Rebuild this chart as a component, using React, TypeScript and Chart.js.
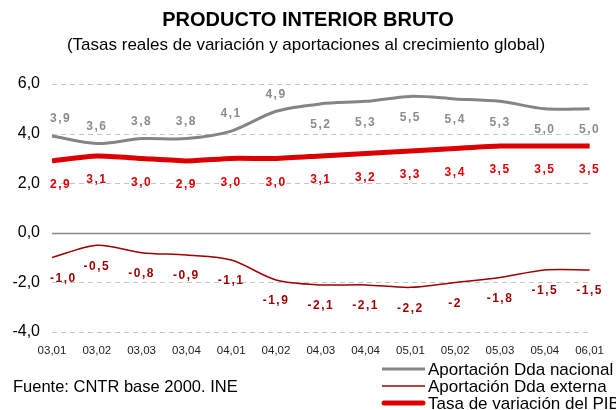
import React, { useEffect, useRef } from "react";
import { Chart, registerables } from "chart.js";

Chart.register(...registerables);

const FONT = "'Liberation Sans', Arial, Helvetica, sans-serif";

const categories = [
  "03,01", "03,02", "03,03", "03,04", "04,01", "04,02", "04,03",
  "04,04", "05,01", "05,02", "05,03", "05,04", "06,01",
];
const ddaNacional = [3.9, 3.6, 3.8, 3.8, 4.1, 4.9, 5.2, 5.3, 5.5, 5.4, 5.3, 5.0, 5.0];
const ddaExterna = [-1.0, -0.5, -0.8, -0.9, -1.1, -1.9, -2.1, -2.1, -2.2, -2.0, -1.8, -1.5, -1.5];
const tasaPib = [2.9, 3.1, 3.0, 2.9, 3.0, 3.0, 3.1, 3.2, 3.3, 3.4, 3.5, 3.5, 3.5];
const nacionalLabels = ["3,9", "3,6", "3,8", "3,8", "4,1", "4,9", "5,2", "5,3", "5,5", "5,4", "5,3", "5,0", "5,0"];
const externaLabels = ["-1,0", "-0,5", "-0,8", "-0,9", "-1,1", "-1,9", "-2,1", "-2,1", "-2,2", "-2", "-1,8", "-1,5", "-1,5"];
const pibLabels = ["2,9", "3,1", "3,0", "2,9", "3,0", "3,0", "3,1", "3,2", "3,3", "3,4", "3,5", "3,5", "3,5"];
const yTickValues = [-4, -2, 0, 2, 4, 6];
const seriesNames = ["Aportación Dda nacional", "Aportación Dda externa", "Tasa de variación del PIB"];

const GRAY = "#858585";
const DARKRED = "#9e0000";
const RED = "#dd0000";

const gridPlugin = {
  id: "customGrid",
  beforeDatasetsDraw(chart: any) {
    const { ctx, chartArea } = chart;
    const y = chart.scales.y;
    ctx.save();
    yTickValues.forEach((v) => {
      const py = Math.round(y.getPixelForValue(v)) + 0.5;
      ctx.beginPath();
      if (v === 0) {
        ctx.setLineDash([]);
        ctx.strokeStyle = "#8a8a8a";
        ctx.lineWidth = 1.5;
      } else {
        ctx.setLineDash([5, 4]);
        ctx.strokeStyle = "#c4c4c4";
        ctx.lineWidth = 1;
      }
      ctx.moveTo(chartArea.left, py);
      ctx.lineTo(chartArea.right + 1, py);
      ctx.stroke();
    });
    ctx.restore();
  },
};

const labelsPlugin = {
  id: "valueLabels",
  afterDatasetsDraw(chart: any) {
    const ctx = chart.ctx;
    const left = chart.chartArea.left;
    ctx.save();
    ctx.font = `bold 12px ${FONT}`;
    ctx.textAlign = "center";
    ctx.textBaseline = "middle";
    (ctx as any).letterSpacing = "1.5px";
    const sets = [
      { labels: nacionalLabels, color: "#8c8c8c" },
      { labels: externaLabels, color: DARKRED },
      { labels: pibLabels, color: RED },
    ];
    sets.forEach((s, di) => {
      const meta = chart.getDatasetMeta(di);
      meta.data.forEach((pt: any, i: number) => {
        let dy = 0;
        if (di === 0) dy = i <= 5 ? -17 : 21;
        else if (di === 1) dy = 21;
        else dy = 24;
        const w = ctx.measureText(s.labels[i]).width;
        const x = Math.max(pt.x, left - 2 + w / 2);
        ctx.fillStyle = s.color;
        ctx.fillText(s.labels[i], x, pt.y + dy);
      });
    });
    ctx.restore();
  },
};

const decorPlugin = {
  id: "decor",
  afterDraw(chart: any) {
    const ctx = chart.ctx;
    ctx.save();
    ctx.fillStyle = "#000";
    ctx.textAlign = "center";
    ctx.textBaseline = "middle";
    ctx.font = `bold 20px ${FONT}`;
    ctx.fillText("PRODUCTO INTERIOR BRUTO", 308, 20);
    ctx.font = `17px ${FONT}`;
    ctx.fillText("(Tasas reales de variación y aportaciones al crecimiento global)", 306, 45);

    ctx.textAlign = "left";
    ctx.font = `16.5px ${FONT}`;
    ctx.fillText("Fuente: CNTR base 2000. INE", 13, 387);

    const rows = [
      { y: 369, color: GRAY, w: 3 },
      { y: 386, color: DARKRED, w: 1.5 },
      { y: 403, color: RED, w: 5 },
    ];
    ctx.font = `17px ${FONT}`;
    rows.forEach((r, i) => {
      ctx.beginPath();
      ctx.strokeStyle = r.color;
      ctx.lineWidth = r.w;
      ctx.lineCap = i === 2 ? "round" : "butt";
      ctx.moveTo(i === 2 ? 384 : 382, r.y);
      ctx.lineTo(i === 2 ? 423 : 425, r.y);
      ctx.stroke();
      ctx.fillStyle = "#000";
      ctx.fillText(seriesNames[i], 428, r.y + 1);
    });
    ctx.restore();
  },
};

export default function App() {
  const ref = useRef<HTMLCanvasElement | null>(null);

  useEffect(() => {
    if (!ref.current) return;
    const chart = new Chart(ref.current, {
      type: "line",
      data: {
        labels: categories,
        datasets: [
          {
            label: seriesNames[0],
            data: ddaNacional,
            borderColor: GRAY,
            borderWidth: 3,
            tension: 0.3,
            pointRadius: 0,
            fill: false,
          },
          {
            label: seriesNames[1],
            data: ddaExterna,
            borderColor: DARKRED,
            borderWidth: 1.5,
            tension: 0.3,
            pointRadius: 0,
            fill: false,
          },
          {
            label: seriesNames[2],
            data: tasaPib,
            borderColor: RED,
            borderWidth: 5,
            tension: 0.2,
            pointRadius: 0,
            fill: false,
          },
        ],
      },
      options: {
        responsive: false,
        animation: false,
        layout: { padding: { left: 0, right: 24, top: 84, bottom: 0 } },
        plugins: {
          legend: { display: false },
          title: { display: false },
          tooltip: { enabled: false },
        },
        scales: {
          x: {
            type: "category",
            offset: false,
            grid: { display: false, drawTicks: false },
            border: { display: false },
            ticks: {
              autoSkip: false,
              maxRotation: 0,
              padding: 12,
              color: "#222",
              font: { family: FONT, size: 11.5 },
            },
            afterFit(s: any) {
              s.height = 78;
            },
          },
          y: {
            min: -4,
            max: 6,
            grid: { display: false, drawTicks: false },
            border: { display: false },
            ticks: {
              stepSize: 2,
              padding: 12,
              color: "#000",
              font: { family: FONT, size: 16 },
              callback: (v: any) => Number(v).toFixed(1).replace(".", ","),
            },
            afterFit(s: any) {
              s.width = 52;
            },
          },
        },
      } as any,
      plugins: [gridPlugin, labelsPlugin, decorPlugin],
    });
    return () => chart.destroy();
  }, []);

  return (
    <div style={{ position: "fixed", left: 0, top: 0, width: 616, height: 410, background: "#fff" }}>
      <canvas ref={ref} width={616} height={410} style={{ display: "block", width: 616, height: 410 }} />
    </div>
  );
}
